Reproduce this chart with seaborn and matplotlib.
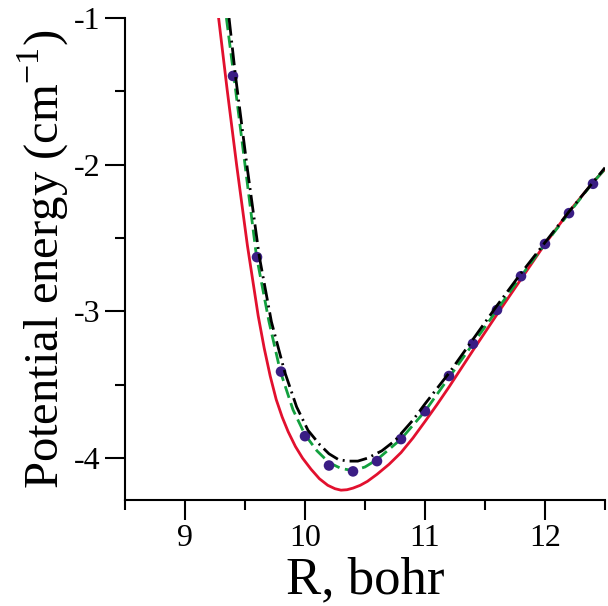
import matplotlib
matplotlib.use('Agg')
import matplotlib.pyplot as plt
from matplotlib.ticker import FixedLocator
import seaborn as sns

# ab initio points
r_points = [9.4, 9.6, 9.8, 10.0, 10.2, 10.4, 10.6, 10.8, 11.0, 11.2, 11.4, 11.6, 11.8, 12.0, 12.2, 12.4]
e_points = [-1.395, -2.63, -3.41, -3.85, -4.05, -4.09, -4.02, -3.87, -3.68, -3.44, -3.22, -2.99, -2.76, -2.54, -2.33, -2.13]

# red solid curve
r_red = [9.28, 9.35, 9.43, 9.52, 9.61, 9.66, 9.71, 9.76, 9.81, 9.86, 9.92, 9.98, 10.05, 10.12, 10.19, 10.25,
         10.30, 10.35, 10.40, 10.46, 10.52, 10.60, 10.70, 10.80, 10.90, 11.0, 11.1, 11.2, 11.3, 11.4, 11.6,
         11.8, 12.0, 12.2, 12.4, 12.5]
e_red = [-1.0, -1.48, -2.00, -2.55, -3.03, -3.25, -3.44, -3.60, -3.72, -3.82, -3.92, -4.00, -4.075, -4.14, -4.185, -4.208,
         -4.218, -4.215, -4.204, -4.185, -4.158, -4.11, -4.042, -3.962, -3.862, -3.75, -3.635, -3.515, -3.39, -3.265, -3.02,
         -2.78, -2.54, -2.32, -2.12, -2.03]

# green dashed curve
r_green = [9.345, 9.40, 9.50, 9.595, 9.70, 9.795, 9.90, 10.0, 10.1, 10.2, 10.3, 10.4, 10.5, 10.6,
           10.8, 11.0, 11.2, 11.4, 11.6, 11.8, 12.0, 12.2, 12.4, 12.5]
e_green = [-1.0, -1.35, -2.00, -2.62, -3.07, -3.41, -3.67, -3.84, -3.95, -4.03, -4.07, -4.085, -4.06, -4.01,
           -3.87, -3.68, -3.45, -3.22, -2.99, -2.76, -2.54, -2.33, -2.12, -2.03]

# black dash-dot curve
r_black = [9.367, 9.42, 9.52, 9.62, 9.72, 9.83, 9.93, 10.025, 10.125, 10.2, 10.28, 10.36, 10.44, 10.52,
           10.64, 10.75, 10.9, 11.0, 11.2, 11.4, 11.6, 11.8, 12.0, 12.2, 12.4, 12.5]
e_black = [-1.0, -1.39, -2.03, -2.63, -3.07, -3.41, -3.65, -3.81, -3.91, -3.97, -4.01, -4.02, -4.02, -4.00,
           -3.95, -3.88, -3.74, -3.63, -3.42, -3.19, -2.96, -2.74, -2.53, -2.32, -2.12, -2.02]

RED = '#e2102e'
GREEN = '#12a03e'
DOTS = '#3a1d84'

sns.set_style('ticks')
plt.rcParams['font.family'] = ['Liberation Serif', 'DejaVu Serif']
plt.rcParams['mathtext.fontset'] = 'custom'
plt.rcParams['mathtext.rm'] = 'Liberation Serif'
plt.rcParams['axes.unicode_minus'] = False
for key in ['text.color', 'axes.labelcolor', 'xtick.color', 'ytick.color', 'axes.edgecolor']:
    plt.rcParams[key] = 'black'

fig = plt.figure(figsize=(6.08, 6.06), dpi=100)
ax = fig.add_axes([125 / 608, 1 - 500 / 606, 480 / 608, 482 / 606])

lw = 2.0
sns.lineplot(x=r_red, y=e_red, ax=ax, color=RED, linewidth=lw, estimator=None, zorder=2)
sns.lineplot(x=r_green, y=e_green, ax=ax, color=GREEN, linewidth=lw, estimator=None, zorder=3,
             linestyle=(0, (4.4, 2.0)))
sns.scatterplot(x=r_points, y=e_points, ax=ax, color=DOTS, s=58, edgecolor='none', zorder=4)
sns.lineplot(x=r_black, y=e_black, ax=ax, color='black', linewidth=lw, estimator=None, zorder=5,
             linestyle=(0, (6.4, 1.8, 0.7, 1.8)))

ax.set_xlim(8.5, 12.5)
ax.set_ylim(-4.285, -1.0)

ax.xaxis.set_major_locator(FixedLocator([9, 10, 11, 12]))
ax.xaxis.set_minor_locator(FixedLocator([8.5, 9.5, 10.5, 11.5, 12.5]))
ax.yaxis.set_major_locator(FixedLocator([-4, -3, -2, -1]))
ax.yaxis.set_minor_locator(FixedLocator([-3.5, -2.5, -1.5]))

ax.tick_params(which='major', direction='out', length=14.5, width=1.5, labelsize=23, pad=3)
ax.tick_params(which='minor', direction='out', length=7.2, width=1.5)

for side in ['top', 'right']:
    ax.spines[side].set_visible(False)
for side in ['left', 'bottom']:
    ax.spines[side].set_linewidth(1.5)

ax.set_xlabel('R, bohr', fontsize=38, labelpad=2)
ax.set_ylabel(r'Potential energy (cm$^{\mathrm{-1}}$)', fontsize=35, labelpad=2)

fig.savefig('out.png', dpi=100)
